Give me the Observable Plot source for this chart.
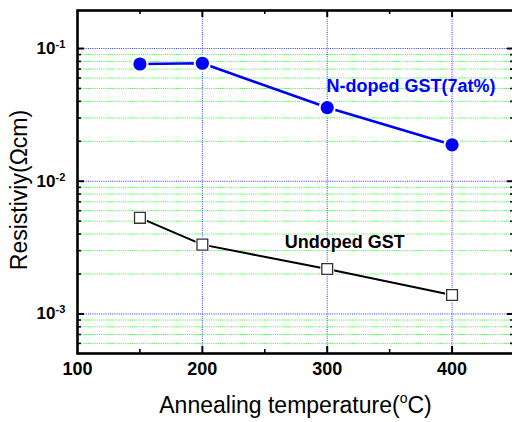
<!DOCTYPE html>
<html><head><meta charset="utf-8">
<script src="https://cdn.jsdelivr.net/npm/d3@7"></script>
<script src="https://cdn.jsdelivr.net/npm/@observablehq/plot@0.6"></script>
<style>html,body{margin:0;padding:0;background:#fff;overflow:hidden}</style>
</head><body><div id="chart"></div>
<script>
// ---- data ----
const temps = [150, 200, 300, 400];
const nDoped = [0.0765, 0.0775, 0.0359, 0.0188];
const undoped = [0.0053, 0.00333, 0.00218, 0.00139];
const seriesNames = ["N-doped GST(7at%)", "Undoped GST"];
const xTickValues = [100, 200, 300, 400];
const xTickLabels = ["100", "200", "300", "400"];
const xGrid = [200, 300, 400];
const xMinor = [150, 250, 350];
const yMajor = [0.001, 0.01, 0.1];
const yExponents = ["-3", "-2", "-1"];
const yMinor = [0.0006, 0.0007, 0.0008, 0.0009,
  0.002, 0.003, 0.004, 0.005, 0.006, 0.007, 0.008, 0.009,
  0.02, 0.03, 0.04, 0.05, 0.06, 0.07, 0.08, 0.09];
const xTitle = ["Annealing temperature(", "o", "C)"];
const yTitle = "Resistiviy(Ωcm)";

const nRows = temps.map((t, i) => ({t, r: nDoped[i]}));
const uRows = temps.map((t, i) => ({t, r: undoped[i]}));
const xTicks = xTickValues.map((v, i) => ({v, s: xTickLabels[i]}));
const yTicks = yMajor.map((v, i) => ({v, e: yExponents[i]}));

const W = 512, H = 422, ML = 77, MR = -2, MT = 10, MB = 69;
const FW = W - ML - MR, FH = H - MT - MB;
const FONT = "'Liberation Sans', Arial, sans-serif";
const green = "#33f533", blue = "#3333ff";

const chart = Plot.plot({
  width: W, height: H,
  marginLeft: ML, marginRight: MR, marginTop: MT, marginBottom: MB,
  style: {fontFamily: FONT, background: "white", color: "black"},
  x: {domain: [100, 450], axis: null},
  y: {type: "log", domain: [5.035e-4, 0.1935], axis: null},
  marks: [
    Plot.ruleY(yMinor, {stroke: green, strokeDasharray: "1,1.2", strokeWidth: 1}),
    Plot.ruleY(yMajor, {stroke: blue, strokeDasharray: "1,1.2", strokeWidth: 1}),
    Plot.ruleX(xGrid, {stroke: blue, strokeDasharray: "1,1.2", strokeWidth: 1}),
    Plot.line(nRows, {x: "t", y: "r", stroke: "#0000f0", strokeWidth: 2.6}),
    Plot.line(uRows, {x: "t", y: "r", stroke: "#000", strokeWidth: 2}),
    Plot.dot(nRows, {x: "t", y: "r", r: 8.6, fill: "white"}),
    Plot.dot(uRows, {x: "t", y: "r", symbol: "square", r: 7.8, fill: "white"}),
    Plot.dot(nRows, {x: "t", y: "r", r: 6.6, fill: "#0000ff"}),
    Plot.dot(uRows, {x: "t", y: "r", symbol: "square", r: 6.1, fill: "white", stroke: "#333", strokeWidth: 1.3}),
    Plot.frame({stroke: "black", strokeWidth: 2.6}),
    // ticks (inward)
    Plot.ruleY(yMajor, {insetRight: FW - 7, strokeWidth: 2}),
    Plot.ruleY(yMinor, {insetRight: FW - 4, strokeWidth: 1.6}),
    Plot.ruleY(yMajor, {insetLeft: FW - 7, strokeWidth: 2}),
    Plot.ruleY(yMinor, {insetLeft: FW - 4, strokeWidth: 1.6}),
    Plot.ruleX(xGrid, {insetTop: FH - 7, strokeWidth: 2}),
    Plot.ruleX(xMinor, {insetTop: FH - 4, strokeWidth: 1.6}),
    Plot.ruleX(xGrid, {insetBottom: FH - 7, strokeWidth: 2}),
    Plot.ruleX(xMinor, {insetBottom: FH - 4, strokeWidth: 1.6}),
    // tick labels
    Plot.text(xTicks, {x: "v", text: "s", frameAnchor: "bottom", lineAnchor: "top", dy: 9,
      fontSize: 18, fontWeight: "bold"}),
    Plot.text(yTicks, {y: "v", text: () => "10", frameAnchor: "left", textAnchor: "end", dx: -22,
      lineAnchor: "middle", fontSize: 17, fontWeight: "bold"}),
    Plot.text(yTicks, {y: "v", text: "e", frameAnchor: "left", textAnchor: "start", dx: -22, dy: -4,
      lineAnchor: "middle", fontSize: 11, fontWeight: "bold"}),
    // series annotations
    Plot.text([seriesNames[0]], {x: 299.5, y: 0.0468, text: d => d, textAnchor: "start", lineAnchor: "bottom",
      fill: "#0000ff", fontSize: 18, fontWeight: "bold"}),
    Plot.text([seriesNames[1]], {x: 266, y: 0.00313, text: d => d, textAnchor: "start", lineAnchor: "bottom",
      fill: "black", fontSize: 18, fontWeight: "bold"})
  ]
});

const svg = d3.select(chart);
svg.style("max-width", "none").style("overflow", "hidden");
const xt = svg.append("text")
  .attr("x", ML + FW / 2).attr("y", 413)
  .attr("text-anchor", "middle")
  .attr("font-family", FONT).attr("font-size", 23).attr("fill", "black");
xt.append("tspan").text(xTitle[0]);
xt.append("tspan").attr("font-size", 14).attr("dy", -10).text(xTitle[1]);
xt.append("tspan").attr("dy", 10).text(xTitle[2]);
svg.append("text")
  .attr("transform", "translate(27,190) rotate(-90)")
  .attr("text-anchor", "middle")
  .attr("font-family", FONT).attr("font-size", 23).attr("fill", "black")
  .text(yTitle);

document.getElementById("chart").appendChild(chart);
</script>
</body></html>
